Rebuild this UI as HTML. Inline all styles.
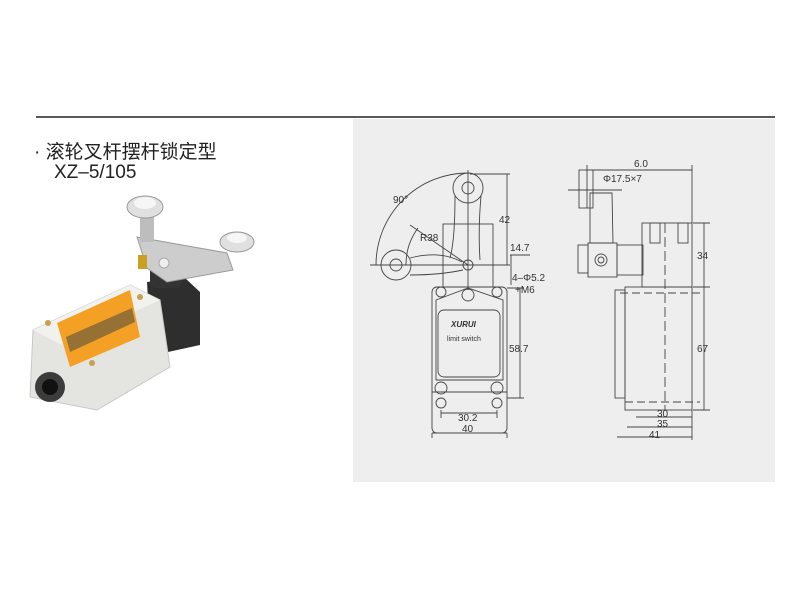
<!DOCTYPE html>
<html><head><meta charset="utf-8"><style>
html,body{margin:0;padding:0;background:#fff;}
body{width:800px;height:600px;position:relative;overflow:hidden;font-family:"Liberation Sans","Noto Sans CJK SC",sans-serif;}
.t1{position:absolute;left:34px;top:137px;font-size:19px;color:#222;white-space:nowrap;}
.t2{position:absolute;left:54px;top:162px;font-size:19px;color:#222;}
</style></head><body>
<div class="t1">· 滚轮叉杆摆杆锁定型</div>
<div class="t2">XZ–5/105</div>
<svg width="800" height="600" style="position:absolute;left:0;top:0" font-family="Liberation Sans, sans-serif">
<line x1="36" y1="117" x2="775" y2="117" stroke="#222" stroke-width="1.5"/>
<rect x="353" y="119" width="422" height="363" fill="#eeeeee"/>
<!-- photo -->
<g>
<polygon points="147,282 185,278 200,292 200,345 168,352 150,340" fill="#2e2e2e"/>
<rect x="150" y="262" width="32" height="26" fill="#333" rx="6"/>
<polygon points="33,330 130,285 160,300 170,367 97,410 30,397" fill="#e4e4e0" stroke="#c8c8c4"/>
<polygon points="33,330 130,285 160,300 62,345" fill="#f1f1ee"/>
<polygon points="57,323 130,290 140,337 70,367" fill="#f3a024"/>
<polygon points="66,337 132,308 135,322 70,352" fill="#5a5040" opacity="0.6"/>
<circle cx="50" cy="387" r="15" fill="#3c3c3c"/><circle cx="50" cy="387" r="8" fill="#111"/>
<circle cx="48" cy="323" r="3" fill="#c9a050"/><circle cx="140" cy="297" r="3" fill="#c9a050"/><circle cx="92" cy="363" r="3" fill="#c9a050"/>
<polygon points="137,237 227,253 233,270 167,282 147,268" fill="#cdcdcd" stroke="#9a9a9a"/>
<rect x="140" y="210" width="14" height="32" fill="#bdbdbd"/>
<ellipse cx="145" cy="207" rx="18" ry="11" fill="#e0e0e0" stroke="#999"/>
<ellipse cx="145" cy="203" rx="11" ry="6" fill="#f6f6f6"/>
<ellipse cx="237" cy="242" rx="17" ry="10" fill="#e0e0e0" stroke="#999"/>
<ellipse cx="237" cy="238" rx="10" ry="5" fill="#f6f6f6"/>
<circle cx="164" cy="263" r="5" fill="#eee" stroke="#aaa"/>
<rect x="138" y="255" width="9" height="14" fill="#c9a020"/>
</g>
<g fill="none" stroke="#444" stroke-width="0.9">
<!-- left view -->
<rect x="432" y="287" width="75" height="146" rx="5"/>
<rect x="438" y="310" width="62" height="67" rx="6"/>
<path d="M436 300 L468 288 L503 300 L503 380 L436 380 Z"/>
<line x1="432" y1="392" x2="507" y2="392"/>
<rect x="443" y="224" width="50" height="63"/>
<circle cx="441" cy="292" r="5"/><circle cx="468" cy="295" r="6"/><circle cx="497" cy="292" r="5"/>
<circle cx="441" cy="388" r="6"/><circle cx="497" cy="388" r="6"/>
<circle cx="441" cy="403" r="5"/><circle cx="497" cy="403" r="5"/>
<circle cx="468" cy="188" r="15"/><circle cx="468" cy="188" r="6"/>
<circle cx="396" cy="265" r="15"/><circle cx="396" cy="265" r="6"/>
<circle cx="468" cy="265" r="5"/>
<path d="M455 196 Q455 240 450 258 M481 196 Q478 230 480 260"/>
<path d="M410 258 Q440 250 462 262 M410 275 Q440 275 463 270"/>
<path d="M376 265 A92 92 0 0 1 468 173" />
<path d="M406 265 A62 62 0 0 1 418 228"/>
<line x1="410" y1="225" x2="468" y2="265"/>
<line x1="370" y1="265" x2="510" y2="265"/>
<line x1="468" y1="170" x2="468" y2="290"/>
<line x1="470" y1="174" x2="510" y2="174"/><line x1="507" y1="174" x2="507" y2="265"/>
<line x1="510" y1="255" x2="530" y2="255"/><line x1="511" y1="255" x2="511" y2="285"/>
<line x1="507" y1="288" x2="524" y2="288"/><line x1="507" y1="398" x2="524" y2="398"/>
<line x1="520" y1="288" x2="520" y2="398"/>
<line x1="441" y1="410" x2="441" y2="418"/><line x1="497" y1="410" x2="497" y2="418"/>
<line x1="441" y1="413" x2="497" y2="413"/>
<line x1="432" y1="433" x2="432" y2="438"/><line x1="507" y1="433" x2="507" y2="438"/>
<line x1="432" y1="433" x2="507" y2="433"/>
<!-- right view -->
<rect x="579" y="170" width="14" height="38"/>
<line x1="568" y1="190" x2="622" y2="190"/>
<polygon points="590,193 612,193 613,243 590,243"/>
<rect x="588" y="243" width="29" height="34"/>
<rect x="578" y="245" width="10" height="28"/>
<circle cx="601" cy="260" r="6"/><circle cx="601" cy="260" r="3"/>
<rect x="617" y="245" width="26" height="30"/>
<rect x="642" y="223" width="50" height="64"/>
<rect x="650" y="223" width="10" height="20"/><rect x="678" y="223" width="10" height="20"/>
<rect x="625" y="287" width="67" height="123"/>
<rect x="615" y="290" width="10" height="108"/>
<line x1="620" y1="293" x2="700" y2="293" stroke-dasharray="8 4"/>
<line x1="625" y1="402" x2="700" y2="402" stroke-dasharray="8 4"/>
<line x1="665" y1="223" x2="665" y2="410" stroke-dasharray="10 4"/>
<line x1="587" y1="165" x2="587" y2="208"/><line x1="692" y1="165" x2="692" y2="223"/>
<line x1="587" y1="170" x2="692" y2="170"/>
<line x1="693" y1="223" x2="710" y2="223"/><line x1="693" y1="287" x2="710" y2="287"/><line x1="693" y1="410" x2="710" y2="410"/>
<line x1="704" y1="223" x2="704" y2="410"/>
<line x1="636" y1="417" x2="692" y2="417"/><line x1="627" y1="427" x2="692" y2="427"/><line x1="617" y1="437" x2="692" y2="437"/>
<line x1="692" y1="410" x2="692" y2="440"/>
</g>
<g fill="#333" font-size="10">
<text x="393" y="203">90°</text>
<text x="420" y="241">R38</text>
<text x="499" y="223">42</text>
<text x="510" y="251">14.7</text>
<text x="512" y="281">4–Φ5.2</text>
<text x="515" y="293">+M6</text>
<text x="509" y="352">58.7</text>
<text x="458" y="421">30.2</text>
<text x="462" y="432">40</text>
<text x="451" y="327" font-size="8" font-weight="bold" font-style="italic">XURUI</text>
<text x="447" y="341" font-size="7">limit switch</text>
<text x="634" y="167">6.0</text>
<text x="603" y="182">Φ17.5×7</text>
<text x="697" y="259">34</text>
<text x="697" y="352">67</text>
<text x="657" y="417">30</text>
<text x="657" y="427">35</text>
<text x="649" y="438">41</text>
</g>
</svg>
</body></html>
